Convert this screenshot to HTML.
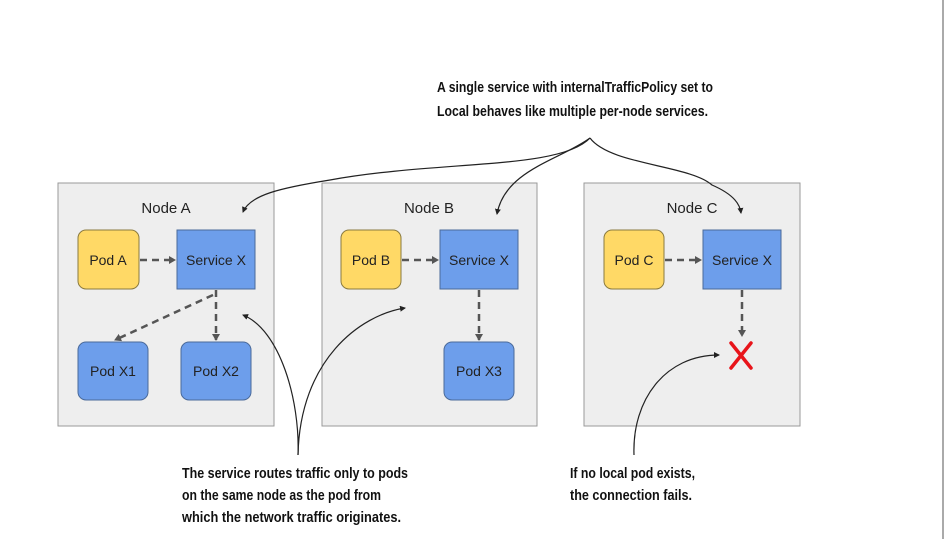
<!DOCTYPE html>
<html><head><meta charset="utf-8"><style>
html,body{margin:0;padding:0;background:#fff;}
svg{display:block;}
.t{font-family:"Liberation Sans",sans-serif;font-weight:bold;font-size:14.5px;fill:#111;}
.n{font-family:"Liberation Sans",sans-serif;font-size:15px;fill:#222;}
.p{font-family:"Liberation Sans",sans-serif;font-size:14px;fill:#222;}
</style></head><body>
<svg width="945" height="539" viewBox="0 0 945 539" xmlns="http://www.w3.org/2000/svg">
<defs>
<marker id="a" markerWidth="8" markerHeight="8" refX="6" refY="4" orient="auto" markerUnits="userSpaceOnUse"><path d="M0,0 L7,4 L0,8 Z" fill="#555"/></marker>
<marker id="b" markerWidth="6" markerHeight="6" refX="5" refY="3" orient="auto" markerUnits="userSpaceOnUse"><path d="M0,0 L6,3 L0,6 Z" fill="#222"/></marker>
</defs>
<line x1="943" y1="0" x2="943" y2="539" stroke="#555" stroke-width="1"/>
<rect x="58" y="183" width="216" height="243" fill="#eeeeee" stroke="#999"/>
<rect x="322" y="183" width="215" height="243" fill="#eeeeee" stroke="#999"/>
<rect x="584" y="183" width="216" height="243" fill="#eeeeee" stroke="#999"/>
<text class="n" x="166" y="213" text-anchor="middle">Node A</text>
<text class="n" x="429" y="213" text-anchor="middle">Node B</text>
<text class="n" x="692" y="213" text-anchor="middle">Node C</text>
<g stroke="#8a7a40" fill="#ffd966">
<rect x="78" y="230" width="61" height="59" rx="8"/>
<rect x="341" y="230" width="60" height="59" rx="8"/>
<rect x="604" y="230" width="60" height="59" rx="8"/>
</g>
<g stroke="#4a6a9a" fill="#6d9eeb">
<rect x="177" y="230" width="78" height="59"/>
<rect x="440" y="230" width="78" height="59"/>
<rect x="703" y="230" width="78" height="59"/>
<rect x="78" y="342" width="70" height="58" rx="8"/>
<rect x="181" y="342" width="70" height="58" rx="8"/>
<rect x="444" y="342" width="70" height="58" rx="8"/>
</g>
<text class="p" x="108" y="265" text-anchor="middle">Pod A</text>
<text class="p" x="371" y="265" text-anchor="middle">Pod B</text>
<text class="p" x="634" y="265" text-anchor="middle">Pod C</text>
<text class="p" x="216" y="265" text-anchor="middle">Service X</text>
<text class="p" x="479" y="265" text-anchor="middle">Service X</text>
<text class="p" x="742" y="265" text-anchor="middle">Service X</text>
<text class="p" x="113" y="376" text-anchor="middle">Pod X1</text>
<text class="p" x="216" y="376" text-anchor="middle">Pod X2</text>
<text class="p" x="479" y="376" text-anchor="middle">Pod X3</text>
<g stroke="#555" stroke-width="2.5" stroke-dasharray="7,5" fill="none">
<line x1="140" y1="260" x2="175" y2="260" marker-end="url(#a)"/>
<line x1="402" y1="260" x2="438" y2="260" marker-end="url(#a)"/>
<line x1="665" y1="260" x2="701" y2="260" marker-end="url(#a)"/>
<line x1="216" y1="290" x2="216" y2="340" marker-end="url(#a)"/>
<line x1="479" y1="290" x2="479" y2="340" marker-end="url(#a)"/>
<line x1="742" y1="290" x2="742" y2="336" marker-end="url(#a)"/>
<path d="M213,295 L115,340" marker-end="url(#a)"/>
</g>
<g stroke="#e8141a" stroke-width="3.5" stroke-linecap="round">
<line x1="731" y1="343" x2="751" y2="368"/>
<line x1="751" y1="343" x2="731" y2="368"/>
</g>
<g stroke="#222" stroke-width="1.2" fill="none">
<path d="M590,138 C560,170 440,160 330,180 C280,188 250,195 243,212" marker-end="url(#b)"/>
<path d="M590,138 C560,160 505,170 497,214" marker-end="url(#b)"/>
<path d="M590,138 C610,165 690,165 712,185 C735,195 740,205 741,213" marker-end="url(#b)"/>
<path d="M298,455 C300,400 280,330 243,315" marker-end="url(#b)"/>
<path d="M298,455 C300,360 360,315 405,308" marker-end="url(#b)"/>
<path d="M634,455 C632,400 665,355 719,355" marker-end="url(#b)"/>
</g>
<text class="t" x="437" y="92" textLength="276" lengthAdjust="spacingAndGlyphs">A single service with internalTrafficPolicy set to</text>
<text class="t" x="437" y="116" textLength="271" lengthAdjust="spacingAndGlyphs">Local behaves like multiple per-node services.</text>
<text class="t" x="182" y="478" textLength="226" lengthAdjust="spacingAndGlyphs">The service routes traffic only to pods</text>
<text class="t" x="182" y="500" textLength="199" lengthAdjust="spacingAndGlyphs">on the same node as the pod from</text>
<text class="t" x="182" y="522" textLength="219" lengthAdjust="spacingAndGlyphs">which the network traffic originates.</text>
<text class="t" x="570" y="478" textLength="125" lengthAdjust="spacingAndGlyphs">If no local pod exists,</text>
<text class="t" x="570" y="500" textLength="122" lengthAdjust="spacingAndGlyphs">the connection fails.</text>
</svg>
</body></html>
